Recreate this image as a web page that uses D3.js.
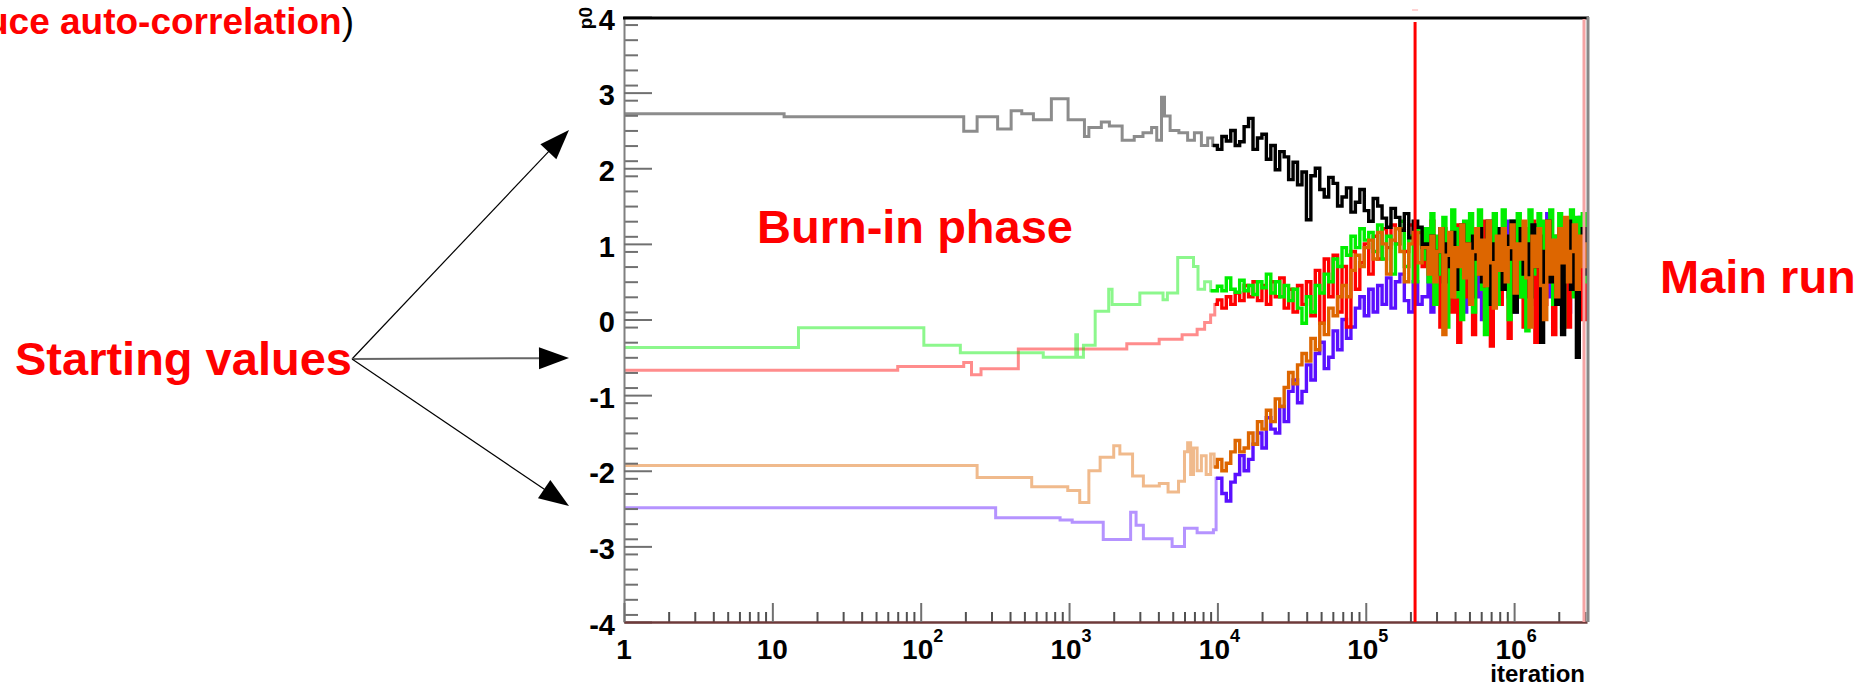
<!DOCTYPE html>
<html><head><meta charset="utf-8">
<script src="https://cdn.jsdelivr.net/npm/d3@7/dist/d3.min.js"></script>
<style>
html,body{margin:0;padding:0;background:#fff;overflow:hidden}
svg{display:block}
text{font-family:"Liberation Sans",Arial,Helvetica,sans-serif}
</style></head><body>
<svg id="c" width="1866" height="683"></svg>
<script>
// ---------- data ----------
const xTickMajor = [1, 10, 100, 1000, 1e4, 1e5, 1e6];
const xTickLabels = [["1",""],["10",""],["10","2"],["10","3"],["10","4"],["10","5"],["10","6"]];
const yTickValues = [-4, -3, -2, -1, 0, 1, 2, 3, 4];
const burnInEnd = 2.15e5;
const lastIteration = 3.1e6;

// early (step) part of each chain: [iteration, p0]
const blackStart = [[1,2.72],[12,2.68],[195,2.49],[240,2.68],[330,2.52],[407,2.76],[480,2.72],[575,2.64],[760,2.92],[985,2.64],[1270,2.42],[1360,2.54],[1650,2.61],[1870,2.56],[2280,2.37],[2750,2.42],[3150,2.47],[3600,2.54],[3900,2.37],[4200,2.94],[4400,2.69],[4800,2.5],[5500,2.47],[6300,2.37],[7000,2.47],[7800,2.3],[8600,2.4],[9300,2.3]];
const greenStart = [[1,-0.37],[15,-0.11],[105,-0.34],[185,-0.44],[670,-0.5],[1110,-0.2],[1140,-0.5],[1250,-0.34],[1500,0.11],[1850,0.4],[1950,0.2],[3000,0.35],[4300,0.26],[4600,0.35],[5400,0.82],[6900,0.7],[7400,0.4],[8200,0.5],[9000,0.38]];
const redStart = [[1,-0.67],[70,-0.62],[195,-0.57],[220,-0.73],[255,-0.65],[455,-0.39],[2450,-0.32],[4050,-0.26],[5780,-0.2],[7300,-0.13],[8200,-0.04],[9000,0.06],[9600,0.2]];
const orangeStart = [[1,-1.93],[240,-2.09],[560,-2.21],[980,-2.26],[1180,-2.42],[1360,-2.0],[1620,-1.82],[2000,-1.67],[2200,-1.78],[2680,-2.07],[3170,-2.2],[4060,-2.17],[4650,-2.28],[5470,-2.14],[6000,-1.75],[6300,-1.63],[6600,-2.05],[6900,-1.7],[7300,-2.0],[7800,-1.8],[8400,-2.05],[9000,-1.78],[9500,-1.95]];
const blueStart = [[1,-2.49],[320,-2.62],[870,-2.65],[1050,-2.68],[1700,-2.91],[2600,-2.55],[2830,-2.72],[3170,-2.9],[4950,-3.0],[6000,-2.76],[7300,-2.82],[9400,-2.78],[9800,-2.1]];

// burn-in sampled iterations (shared) and values per chain
const burnIter = [10000,10715,11482,12303,13183,14125,15136,16218,17378,18621,19953,21380,22909,24547,26303,28184,30200,32359,34674,37154,39811,42658,45709,48978,52481,56234,60256,64565,69183,74131,79433,85114,91201,97724,104713,112202,120226,128825,138038,147911,158489,169824,181970,194984,208930,223872,239883];
const blackBurn = [2.25,2.42,2.36,2.5,2.3,2.35,2.55,2.66,2.25,2.4,2.45,2.12,2.3,1.98,2.22,2.15,1.85,2.08,1.78,1.95,1.32,1.9,2.0,1.72,1.62,1.88,1.8,1.5,1.62,1.74,1.42,1.55,1.72,1.44,1.3,1.6,1.5,1.34,1.22,1.47,1.35,1.18,1.4,1.08,1.3,1.22,0.95];
const greenBurn = [0.44,0.38,0.55,0.4,0.36,0.52,0.38,0.45,0.33,0.5,0.42,0.6,0.35,0.5,0.3,0.45,0.25,0.4,0.15,-0.05,0.3,0.1,0.45,0.35,0.6,0.5,0.8,0.7,0.95,0.85,1.1,0.95,1.2,1.05,1.15,0.9,1.25,0.8,1.1,0.6,1.0,1.3,0.7,1.1,0.5,1.2,0.8];
const redBurn = [0.26,0.15,0.3,0.2,0.35,0.25,0.45,0.3,0.5,0.25,0.45,0.2,0.5,0.3,0.55,0.15,0.4,0.1,0.45,0.2,0.5,0.05,0.65,-0.05,0.8,0.3,0.85,0.1,0.7,-0.1,0.9,0.4,0.75,1.0,0.6,1.1,0.8,1.2,0.95,1.25,1.0,1.2,0.9,1.25,1.0,1.15,0.7];
const orangeBurn = [-1.85,-2.0,-1.9,-1.75,-1.6,-1.75,-1.7,-1.5,-1.65,-1.35,-1.45,-1.2,-1.35,-1.05,-1.15,-0.9,-0.7,-0.85,-0.6,-0.45,-0.55,-0.25,-0.4,-0.05,-0.2,0.15,0.05,0.3,0.45,0.3,0.65,0.85,0.7,0.95,1.05,0.8,1.15,1.0,0.6,1.05,1.2,0.9,0.5,1.0,1.15,0.75,0.95];
const blueBurn = [-2.1,-2.3,-2.4,-2.15,-2.05,-1.8,-2.0,-1.85,-1.65,-1.5,-1.7,-1.3,-1.45,-1.5,-1.15,-1.35,-0.95,-0.8,-1.1,-0.95,-0.6,-0.8,-0.45,-0.3,-0.65,-0.5,-0.15,-0.4,0.0,-0.25,-0.1,0.15,0.3,0.05,0.4,0.1,0.45,0.2,0.55,0.15,0.5,0.6,0.25,0.1,0.5,0.2,0.3];

// main run sampled iterations (shared) and values per chain
const runIter = [2.51e5,2.63e5,2.75e5,2.88e5,3.02e5,3.16e5,3.31e5,3.47e5,3.63e5,3.80e5,3.98e5,4.17e5,4.37e5,4.57e5,4.79e5,5.01e5,5.25e5,5.50e5,5.75e5,6.03e5,6.31e5,6.61e5,6.92e5,7.24e5,7.59e5,7.94e5,8.32e5,8.71e5,9.12e5,9.55e5,1.00e6,1.05e6,1.10e6,1.15e6,1.20e6,1.26e6,1.32e6,1.38e6,1.45e6,1.51e6,1.58e6,1.66e6,1.74e6,1.82e6,1.91e6,2.00e6,2.09e6,2.19e6,2.29e6,2.40e6,2.51e6,2.63e6,2.75e6,2.88e6,3.02e6];
const blackRun = [1.0,0.8,1.1,0.6,0.9,1.2,0.5,1.0,0.7,1.15,0.4,0.9,1.25,0.6,1.0,0.3,1.1,0.8,1.2,0.5,0.9,1.3,0.2,1.0,0.7,1.2,0.4,1.1,0.8,1.3,0.1,0.9,1.2,0.6,1.0,0.3,1.25,0.7,1.1,-0.3,0.9,1.3,0.5,1.0,0.2,1.2,-0.2,0.8,1.3,0.4,1.1,-0.5,0.9,1.2,0.6];
const greenRun = [1.2,0.5,1.4,0.2,1.1,0.6,1.35,-0.1,0.9,1.45,0.3,1.2,0.0,1.3,0.7,1.4,0.1,1.0,1.45,0.4,-0.2,1.25,0.8,1.4,0.2,1.1,1.45,0.5,0.0,1.3,0.9,1.4,0.3,1.2,-0.15,1.45,0.6,1.0,1.4,0.1,1.3,0.8,1.45,0.2,1.1,1.4,-0.1,1.2,0.6,1.45,0.3,1.35,0.9,1.4,0.5];
const redRun = [1.1,0.7,1.3,0.2,0.9,-0.1,1.2,0.5,1.0,0.1,1.25,-0.3,0.8,1.1,0.3,1.2,-0.2,0.9,0.6,1.3,0.0,1.0,-0.35,1.15,0.7,0.2,1.2,0.5,-0.25,1.0,1.25,0.3,0.9,-0.1,1.1,0.6,1.3,-0.3,0.8,1.0,0.2,1.2,0.5,-0.2,1.1,0.9,0.3,1.25,-0.1,0.8,1.1,0.4,1.2,0.0,0.9];
const orangeRun = [0.95,0.6,1.1,0.5,0.9,1.2,-0.2,0.85,1.15,0.3,0.95,0.7,1.25,0.55,1.0,0.2,0.9,1.2,0.6,1.05,0.45,1.3,0.75,0.15,1.1,0.65,1.2,0.5,0.95,1.25,0.35,1.0,0.8,1.3,0.55,-0.1,1.1,0.7,1.2,0.45,0.0,1.3,0.6,1.05,0.3,1.2,0.75,1.35,0.5,0.9,1.25,0.4,1.1,0.7,1.0];
const blueRun = [0.3,0.7,0.1,0.6,0.4,0.9,0.0,0.5,0.8,0.2,1.0,0.4,0.7,0.1,0.9,0.5,1.1,0.3,0.6,0.0,0.8,1.2,0.4,0.7,0.2,1.0,0.5,1.3,0.3,0.8,0.1,0.6,1.1,0.4,0.9,0.2,1.2,0.6,0.0,0.9,0.5,1.4,0.3,0.8,1.0,0.2,1.3,0.6,0.1,1.1,0.4,0.9,1.35,0.3,0.7];

const chains = [
  {color:"#5a10ff", start:blueStart,   burn:blueBurn,   run:blueRun},
  {color:"#ff0000", start:redStart,    burn:redBurn,    run:redRun},
  {color:"#00ee00", start:greenStart,  burn:greenBurn,  run:greenRun},
  {color:"#000000", start:blackStart,  burn:blackBurn,  run:blackRun},
  {color:"#dd6600", start:orangeStart, burn:orangeBurn, run:orangeRun}
];

// ---------- drawing ----------
const svg = d3.select("#c");
const L = 624, R = 1587, T = 17, B = 622;
const x = d3.scaleLog().domain([1, lastIteration]).range([L, R]);
const y = d3.scaleLinear().domain([-4, 4]).range([B, T]);

svg.append("defs").append("clipPath").attr("id","plot")
  .append("rect").attr("x",L).attr("y",T).attr("width",R-L+2).attr("height",B-T);

const line = d3.line().x(d=>x(d[0])).y(d=>y(d[1])).curve(d3.curveStepAfter);
const gData = svg.append("g").attr("clip-path","url(#plot)");

chains.forEach(c=>{
  const burnPts = burnIter.map((it,i)=>[it,c.burn[i]]).filter(d=>d[1]!==undefined);
  const n = Math.min(runIter.length, c.run.length);
  const runPts = runIter.slice(0,n).map((it,i)=>[it,c.run[i]]);
  const lastV = runPts[runPts.length-1][1];
  const early = c.start.concat([burnPts[0]]);
  const rest = [c.start[c.start.length-1]].concat(burnPts, runPts, [[lastIteration,lastV]]);
  gData.append("path").attr("d",line(early)).attr("fill","none")
    .attr("stroke",c.color).attr("stroke-opacity",0.45).attr("stroke-width",3);
  gData.append("path").attr("d",line(rest)).attr("fill","none")
    .attr("stroke",c.color).attr("stroke-width",3.4).attr("stroke-linejoin","miter");
});

// y axis (minor + major ticks)
const yMinor = d3.range(-39,40,2).map(v=>v/10).filter(v=>Math.abs(v-Math.round(v))>1e-6);
svg.append("g").attr("transform",`translate(${L},0)`)
  .call(d3.axisLeft(y).tickValues(yMinor).tickSize(-14).tickSizeOuter(0).tickFormat(""))
  .call(g=>g.select(".domain").remove())
  .call(g=>g.selectAll("line").attr("stroke","#707070").attr("stroke-width",2));
const yAx = svg.append("g").attr("transform",`translate(${L},0)`)
  .call(d3.axisLeft(y).tickValues(yTickValues).tickSize(-28).tickSizeOuter(0).tickPadding(9).tickFormat(d=>String(d)));
yAx.select(".domain").attr("stroke","#808080").attr("stroke-width",2);
yAx.selectAll("line").attr("stroke","#707070").attr("stroke-width",2);
yAx.selectAll("text").attr("font-size",29).attr("font-weight","bold").attr("fill","#000")
  .attr("font-family","'Liberation Sans',Arial,sans-serif").attr("dy","0.42em");

// x axis
const xMinor = [];
xTickMajor.forEach(p=>{ for(let m=2;m<=9;m++){ const v=m*p; if(v<lastIteration) xMinor.push(v);} });
svg.append("g").attr("transform",`translate(0,${B})`)
  .call(d3.axisBottom(x).tickValues(xMinor).tickSize(-10).tickSizeOuter(0).tickFormat(""))
  .call(g=>g.select(".domain").remove())
  .call(g=>g.selectAll("line").attr("stroke","#505050").attr("stroke-width",2));
const xAx = svg.append("g").attr("transform",`translate(0,${B})`)
  .call(d3.axisBottom(x).tickValues(xTickMajor).tickSize(-19).tickSizeOuter(0).tickFormat(""));
xAx.selectAll("line").attr("stroke","#707070").attr("stroke-width",2);
xAx.select(".domain").attr("stroke","#6e3a3a").attr("stroke-width",2.5);

xTickMajor.forEach((v,i)=>{
  const t = svg.append("text").attr("x",x(v)+(xTickLabels[i][1]?2:0)).attr("y",659)
    .attr("text-anchor","middle").attr("font-size",28).attr("font-weight","bold").attr("fill","#000");
  t.append("tspan").text(xTickLabels[i][0]);
  if(xTickLabels[i][1]) t.append("tspan").attr("font-size",18).attr("dy",-17).text(xTickLabels[i][1]);
});

// frame
svg.append("line").attr("x1",L-1).attr("x2",R+2).attr("y1",T+1).attr("y2",T+1)
  .attr("stroke","#000").attr("stroke-width",3);
svg.append("line").attr("x1",R+1).attr("x2",R+1).attr("y1",T).attr("y2",B)
  .attr("stroke","#888").attr("stroke-width",3);
svg.append("line").attr("x1",x(lastIteration)-3).attr("x2",x(lastIteration)-3).attr("y1",T+2).attr("y2",B)
  .attr("stroke","#f6a4a4").attr("stroke-width",3);

// burn-in end marker
svg.append("line").attr("x1",x(burnInEnd)).attr("x2",x(burnInEnd)).attr("y1",22).attr("y2",B)
  .attr("stroke","#ff0000").attr("stroke-width",3);
svg.append("line").attr("x1",x(burnInEnd)-3).attr("x2",x(burnInEnd)+3).attr("y1",10).attr("y2",10)
  .attr("stroke","#ffc4c4").attr("stroke-width",1.5);

// axis titles
svg.append("text").attr("transform","translate(592,7) rotate(-90)").attr("text-anchor","end")
  .attr("font-size",19).attr("font-weight","bold").attr("fill","#000").text("p0");
svg.append("text").attr("x",1585).attr("y",682).attr("text-anchor","end")
  .attr("font-size",24).attr("font-weight","bold").attr("fill","#000").text("iteration");

// annotations
const topText = svg.append("text").attr("x",354).attr("y",34).attr("text-anchor","end").attr("font-size",37);
topText.append("tspan").attr("font-weight","bold").attr("fill","#ff0000").text("uce auto-correlation");
topText.append("tspan").attr("fill","#000").text(")");

svg.append("text").attr("x",757).attr("y",243).attr("font-size",47).attr("font-weight","bold")
  .attr("fill","#ff0000").text("Burn-in phase");
svg.append("text").attr("x",1660).attr("y",293).attr("font-size",47).attr("font-weight","bold")
  .attr("fill","#ff0000").text("Main run");
svg.append("text").attr("x",15).attr("y",375).attr("font-size",47).attr("font-weight","bold")
  .attr("fill","#ff0000").text("Starting values");

// arrows
function arrow(x1,y1,x2,y2,col,w){
  const dx=x2-x1, dy=y2-y1, len=Math.hypot(dx,dy), ux=dx/len, uy=dy/len;
  const HL=30, HW=11, bx=x2-ux*HL, by=y2-uy*HL;
  svg.append("line").attr("x1",x1).attr("y1",y1).attr("x2",bx+ux*2).attr("y2",by+uy*2)
    .attr("stroke",col).attr("stroke-width",w);
  svg.append("polygon").attr("points",[[x2,y2],[bx-uy*HW,by+ux*HW],[bx+uy*HW,by-ux*HW]].map(p=>p.join(",")).join(" "))
    .attr("fill","#000");
}
arrow(352,359,569,130,"#000",1.2);
arrow(352,359,569,358,"#666",2);
arrow(352,359,569,506,"#000",1.2);
</script></body></html>
